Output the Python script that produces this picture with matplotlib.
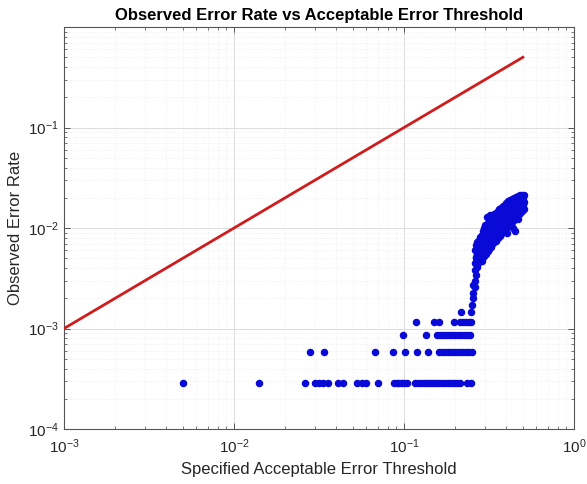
import matplotlib
matplotlib.use("Agg")
import matplotlib.pyplot as plt
from matplotlib.ticker import LogLocator, NullFormatter

plt.rcParams['font.family'] = ['Liberation Sans', 'DejaVu Sans']
plt.rcParams['mathtext.fontset'] = 'custom'
plt.rcParams['mathtext.rm'] = 'Liberation Sans'
plt.rcParams['mathtext.it'] = 'Liberation Sans:italic'
plt.rcParams['mathtext.bf'] = 'Liberation Sans:bold'

# Reference line (observed = specified)
line_x = [0.001, 0.5]
line_y = [0.001, 0.5]

# Discrete low-count rows
row_levels = [0.00029, 0.00058, 0.00087, 0.00116, 0.00145]
row1_x = [0.005, 0.014, 0.0262, 0.0299, 0.0318, 0.0335, 0.0359, 0.0411, 0.0436,
          0.0531, 0.0564, 0.0598, 0.070, 0.0877, 0.0906, 0.0938, 0.0969, 0.100,
          0.1037, 0.1161, 0.1209, 0.1259, 0.1311, 0.1365, 0.1422, 0.1481, 0.1542,
          0.1606, 0.1673, 0.1742, 0.1815, 0.1890, 0.1968, 0.2050, 0.2135, 0.233, 0.246]
row2_x = [0.028, 0.034, 0.0675, 0.0859, 0.1014, 0.119, 0.138, 0.1606, 0.1673,
          0.1742, 0.1815, 0.1890, 0.1968, 0.2050, 0.2135, 0.2224, 0.2316, 0.2412, 0.2512]
row3_x = [0.099, 0.135, 0.1563, 0.1629, 0.1696, 0.1767, 0.1840, 0.1917, 0.1997,
          0.2080, 0.2166, 0.2256, 0.2350, 0.2448]
row4_x = [0.117, 0.150, 0.1606, 0.197, 0.2135, 0.2224, 0.2316, 0.2412, 0.2480]
row5_x = [0.216, 0.249]

# Rising tail
tail_x = [0.252, 0.255, 0.254, 0.262, 0.256, 0.260, 0.266, 0.263, 0.270]
tail_y = [0.00171, 0.0020, 0.00227, 0.00258, 0.0027, 0.0030, 0.0034, 0.0038, 0.0041]

# Dense cluster (x, y pairs)
cluster_x = [
    0.261, 0.264, 0.262,
    0.267, 0.265, 0.268, 0.266,
    0.271, 0.269, 0.273, 0.270,
    0.276, 0.274, 0.278, 0.275, 0.277,
    0.281, 0.283, 0.279, 0.282, 0.280,
    0.287, 0.286, 0.284, 0.288, 0.285, 0.289,
    0.291, 0.293, 0.290, 0.294, 0.292, 0.291,
    0.297, 0.299, 0.295, 0.300, 0.298, 0.296,
    0.304, 0.302, 0.306, 0.303, 0.305, 0.301,
    0.310, 0.308, 0.311, 0.307, 0.309, 0.312, 0.309,
    0.317, 0.315, 0.318, 0.314, 0.316, 0.319, 0.321,
    0.324, 0.321, 0.326, 0.323, 0.320, 0.325,
    0.331, 0.329, 0.333, 0.330, 0.328, 0.332,
    0.339, 0.337, 0.341, 0.336, 0.340, 0.338,
    0.347, 0.345, 0.349, 0.344, 0.348, 0.346,
    0.356, 0.353, 0.358, 0.354, 0.357, 0.355,
    0.365, 0.362, 0.367, 0.363, 0.366, 0.364,
    0.374, 0.372, 0.377, 0.371, 0.375, 0.373,
    0.385, 0.381, 0.386, 0.382, 0.384, 0.380,
    0.394, 0.391, 0.397, 0.392, 0.395, 0.390,
    0.404, 0.401, 0.407, 0.402, 0.405, 0.400,
    0.416, 0.412, 0.418, 0.413, 0.415, 0.411,
    0.426, 0.423, 0.429, 0.424, 0.427, 0.422,
    0.437, 0.434, 0.440, 0.435, 0.438, 0.433,
    0.449, 0.445, 0.451, 0.446, 0.448, 0.444,
    0.460, 0.457, 0.463, 0.458, 0.461, 0.456,
    0.472, 0.469, 0.475, 0.470, 0.473, 0.468,
    0.484, 0.481, 0.487, 0.482, 0.485, 0.480,
    0.496, 0.493, 0.499, 0.494, 0.497, 0.492,
    0.505, 0.503, 0.507, 0.504, 0.506,
    0.438, 0.452, 0.401, 0.470,
]
cluster_y = [
    0.0045, 0.0052, 0.0061,
    0.0043, 0.0050, 0.0058, 0.0067,
    0.0048, 0.0055, 0.0061, 0.0072,
    0.0046, 0.0052, 0.0059, 0.0066, 0.0076,
    0.0049, 0.0056, 0.0064, 0.0071, 0.0081,
    0.0047, 0.0054, 0.0060, 0.0069, 0.0078, 0.0085,
    0.0051, 0.0057, 0.0065, 0.0072, 0.0083, 0.0093,
    0.0053, 0.0061, 0.0068, 0.0079, 0.0087, 0.0101,
    0.0055, 0.0064, 0.0071, 0.0084, 0.0095, 0.0107,
    0.0059, 0.0066, 0.0077, 0.0088, 0.0099, 0.0113, 0.0128,
    0.0062, 0.0071, 0.0079, 0.0093, 0.0104, 0.0121, 0.0135,
    0.0065, 0.0073, 0.0086, 0.0096, 0.0111, 0.0124,
    0.0069, 0.0077, 0.0090, 0.0100, 0.0116, 0.0130,
    0.0072, 0.0083, 0.0093, 0.0107, 0.0119, 0.0137,
    0.0074, 0.0087, 0.0099, 0.0110, 0.0127, 0.0140,
    0.0080, 0.0089, 0.0104, 0.0115, 0.0132, 0.0148,
    0.0084, 0.0096, 0.0107, 0.0122, 0.0136, 0.0154,
    0.0087, 0.0101, 0.0114, 0.0126, 0.0144, 0.0158,
    0.0093, 0.0104, 0.0119, 0.0133, 0.0147, 0.0166,
    0.0096, 0.0111, 0.0122, 0.0139, 0.0155, 0.0170,
    0.0103, 0.0114, 0.0130, 0.0143, 0.0161, 0.0178,
    0.0106, 0.0121, 0.0133, 0.0151, 0.0165, 0.0184,
    0.0113, 0.0125, 0.0141, 0.0155, 0.0173, 0.0188,
    0.0117, 0.0133, 0.0145, 0.0163, 0.0177, 0.0195,
    0.0125, 0.0137, 0.0153, 0.0166, 0.0184, 0.0198,
    0.0129, 0.0145, 0.0157, 0.0174, 0.0188, 0.0205,
    0.0137, 0.0149, 0.0165, 0.0178, 0.0196, 0.0208,
    0.0141, 0.0157, 0.0169, 0.0186, 0.0199, 0.0214,
    0.0149, 0.0161, 0.0177, 0.0189, 0.0206, 0.0215,
    0.0154, 0.0169, 0.0181, 0.0197, 0.0211,
    0.0101, 0.0094, 0.0089, 0.0122,
]

pts_x, pts_y = [], []
for lvl, xs in zip(row_levels, [row1_x, row2_x, row3_x, row4_x, row5_x]):
    pts_x += xs
    pts_y += [lvl] * len(xs)
pts_x += tail_x + cluster_x
pts_y += tail_y + cluster_y

fig = plt.figure(figsize=(5.87, 4.84), dpi=100)
ax = fig.add_axes([0.109, 0.1136, 0.869, 0.8306])

ax.set_xscale('log')
ax.set_yscale('log')
ax.set_xlim(1e-3, 1e0)
ax.set_ylim(1e-4, 1e0)

ax.grid(True, which='major', color='#dcdcdc', linewidth=0.7)
ax.grid(True, which='minor', color='#ececec', linewidth=0.6, linestyle=':')
ax.set_axisbelow(True)

ax.plot(line_x, line_y, color='#d01c1c', linewidth=2.0, zorder=3)
ax.plot(pts_x, pts_y, linestyle='none', marker='o', markersize=4.4,
        markerfacecolor='#0a0ad8', markeredgecolor='#0a0ad8', zorder=4)

ax.set_xticks([1e-3, 1e-2, 1e-1, 1e0])
ax.set_yticks([1e-4, 1e-3, 1e-2, 1e-1])
ax.xaxis.set_minor_locator(LogLocator(base=10, subs=range(2, 10), numticks=20))
ax.yaxis.set_minor_locator(LogLocator(base=10, subs=range(2, 10), numticks=20))
ax.xaxis.set_minor_formatter(NullFormatter())
ax.yaxis.set_minor_formatter(NullFormatter())

ax.tick_params(which='both', direction='in', top=True, right=True,
               color='#404040', labelcolor='#262626', labelsize=11)
ax.tick_params(which='major', length=4, width=0.6)
ax.tick_params(which='minor', length=2.5, width=0.5)
ax.tick_params(axis='x', pad=6)
for s in ax.spines.values():
    s.set_color('#555555')
    s.set_linewidth(0.8)

ax.set_xlabel('Specified Acceptable Error Threshold', fontsize=12, color='#262626', labelpad=4)
ax.set_ylabel('Observed Error Rate', fontsize=12, color='#262626', labelpad=4)
ax.set_title('Observed Error Rate vs Acceptable Error Threshold', fontsize=12,
             fontweight='bold', color='black', pad=5)

fig.savefig('out.png', dpi=100)
